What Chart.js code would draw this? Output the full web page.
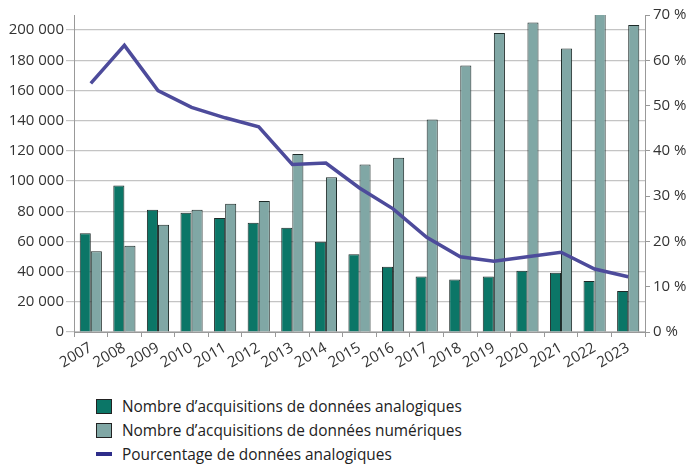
<!DOCTYPE html>
<html>
<head>
<meta charset="utf-8">
<script src="https://cdn.jsdelivr.net/npm/chart.js@4.4.0/dist/chart.umd.min.js"></script>
<style>
  body { margin: 0; background: #fff; }
  #wrap { position: relative; width: 700px; height: 466px; }
  #chartBox { position: absolute; left: 0; top: 0; width: 700px; height: 372px; }
  #legend { position: absolute; left: 96px; top: 396px; font: 15.4px "Open Sans", sans-serif; color: #222; }
  .item { height: 24px; line-height: 22px; white-space: nowrap; }
  .sw { display: inline-block; width: 14px; height: 13px; border: 1px solid #222; vertical-align: middle; margin-right: 10px; margin-top: -3px; }
  .ln { display: inline-block; width: 16px; height: 4px; vertical-align: middle; margin-right: 10px; margin-top: -3px; }
</style>
</head>
<body>
<div id="wrap">
  <div id="chartBox"><canvas id="myChart"></canvas></div>
  <div id="legend"></div>
</div>
<script>
// data
var years = ["2007", "2008", "2009", "2010", "2011", "2012", "2013", "2014", "2015",
  "2016", "2017", "2018", "2019", "2020", "2021", "2022", "2023"];
var analogiques = [65500, 97000, 81000, 79000, 75600, 72300, 69000, 59800, 51500,
  43200, 36800, 34800, 36800, 40500, 39200, 33800, 27200];
var numeriques = [53500, 57100, 71000, 81000, 85000, 86700, 118000, 102500, 111000,
  115500, 140800, 176500, 198000, 205000, 187800, 212000, 203300];
var pourcentage = [54.9, 63.3, 53.3, 49.6, 47.3, 45.3, 37.0, 37.3, 31.8,
  27.2, 20.9, 16.6, 15.6, 16.6, 17.6, 13.9, 12.2];
var leftTicks = [0, 20000, 40000, 60000, 80000, 100000, 120000, 140000, 160000, 180000, 200000];
var rightTicks = [0, 10, 20, 30, 40, 50, 60, 70];

var labelAnalog = "Nombre d\u2019acquisitions de données analogiques";
var labelNum = "Nombre d\u2019acquisitions de données numériques";
var labelPct = "Pourcentage de données analogiques";

var font = { family: "'Open Sans', sans-serif", size: 15 };

function spaced(v) {
  return String(v).replace(/\B(?=(\d{3})+(?!\d))/g, " ");
}

var ctx = document.getElementById("myChart");
var myChart = new Chart(ctx, {
  data: {
    labels: years,
    datasets: [
      {
        type: "line",
        label: labelPct,
        data: pourcentage,
        yAxisID: "y2",
        borderColor: "#4d4b9b",
        borderWidth: 3.5,
        pointRadius: 0,
        tension: 0,
        order: 0
      },
      {
        type: "bar",
        label: labelAnalog,
        data: analogiques,
        yAxisID: "y",
        backgroundColor: "#0b7667",
        borderColor: "#1d2a28",
        borderWidth: 1,
        barPercentage: 1,
        categoryPercentage: 0.66,
        order: 1
      },
      {
        type: "bar",
        label: labelNum,
        data: numeriques,
        yAxisID: "y",
        backgroundColor: "#80a7a5",
        borderColor: "#1d2a28",
        borderWidth: 1,
        barPercentage: 1,
        categoryPercentage: 0.66,
        order: 1
      }
    ]
  },
  options: {
    responsive: true,
    maintainAspectRatio: false,
    animation: false,
    layout: { padding: { top: 15, left: 0, right: 0, bottom: 0 } },
    plugins: { legend: { display: false }, tooltip: { enabled: false } },
    scales: {
      x: {
        offset: true,
        grid: { display: true, drawOnChartArea: false, offset: true, tickLength: 5, color: "#999" },
        border: { color: "#999" },
        ticks: { font: font, color: "#333", autoSkip: false, minRotation: 30, maxRotation: 30, padding: 2 },
        afterFit: function (s) { s.height = 40; }
      },
      y: {
        position: "left",
        min: 0,
        max: 210000,
        grid: { color: "#c4c4c4", tickLength: 8, lineWidth: 1.2 },
        border: { color: "#999" },
        ticks: { font: font, color: "#333", padding: 2, callback: function (v) { return spaced(v); } },
        afterBuildTicks: function (s) { s.ticks = leftTicks.map(function (v) { return { value: v }; }); },
        afterFit: function (s) { s.width = 74; }
      },
      y2: {
        position: "right",
        min: 0,
        max: 70,
        grid: { drawOnChartArea: false, tickLength: 5, color: "#999" },
        border: { color: "#999" },
        ticks: { font: font, color: "#333", padding: 3, callback: function (v) { return v + " %"; } },
        afterBuildTicks: function (s) { s.ticks = rightTicks.map(function (v) { return { value: v }; }); },
        afterFit: function (s) { s.width = 55; }
      }
    }
  }
});

// legend built from the dataset labels
var legend = document.getElementById("legend");
[
  { label: labelAnalog, color: "#0b7667", kind: "sw" },
  { label: labelNum, color: "#80a7a5", kind: "sw" },
  { label: labelPct, color: "#2e2d8a", kind: "ln" }
].forEach(function (it) {
  var row = document.createElement("div");
  row.className = "item";
  var mark = document.createElement("span");
  mark.className = it.kind;
  mark.style.background = it.color;
  row.appendChild(mark);
  row.appendChild(document.createTextNode(it.label));
  legend.appendChild(row);
});
</script>
</body>
</html>
